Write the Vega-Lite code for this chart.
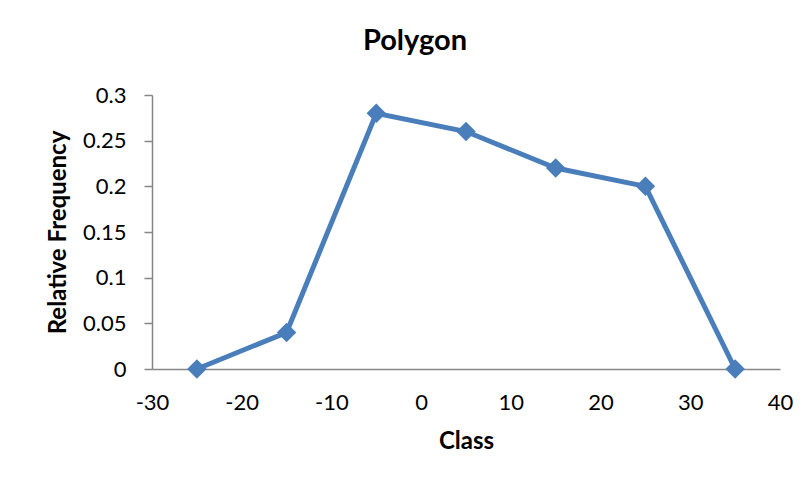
{
  "$schema": "https://vega.github.io/schema/vega-lite/v6.json",
  "width": 628,
  "height": 274,
  "autosize": {"type": "none"},
  "padding": {"left": 152, "top": 95, "right": 32, "bottom": 121},
  "background": "white",
  "config": {
    "view": {"stroke": null},
    "font": "Lato"
  },
  "title": {
    "text": "Polygon",
    "font": "Lato",
    "fontSize": 29,
    "fontWeight": "bold",
    "color": "#000000",
    "anchor": "middle",
    "frame": "group",
    "dx": -51,
    "baseline": "alphabetic",
    "offset": 5
  },
  "data": {
    "values": [
      {"Class": -25, "RelativeFrequency": 0},
      {"Class": -15, "RelativeFrequency": 0.04},
      {"Class": -5, "RelativeFrequency": 0.28},
      {"Class": 5, "RelativeFrequency": 0.26},
      {"Class": 15, "RelativeFrequency": 0.22},
      {"Class": 25, "RelativeFrequency": 0.2},
      {"Class": 35, "RelativeFrequency": 0}
    ]
  },
  "mark": {
    "type": "line",
    "color": "#4A7EBB",
    "strokeWidth": 5,
    "point": {"shape": "diamond", "size": 380, "filled": true, "color": "#4A7EBB", "opacity": 1}
  },
  "encoding": {
    "x": {
      "field": "Class",
      "type": "quantitative",
      "scale": {"domain": [-30, 40], "nice": false, "zero": false},
      "axis": {
        "title": "Class",
        "values": [-30, -20, -10, 0, 10, 20, 30, 40],
        "labelExpr": "'' + datum.value",
        "grid": false,
        "ticks": false,
        "domainColor": "#868686",
        "domainWidth": 1.5,
        "labelFont": "Lato",
        "labelFontSize": 22,
        "labelColor": "#000000",
        "labelPadding": 23,
        "labelFlush": false,
        "titleFont": "Lato",
        "titleFontSize": 24,
        "titleFontWeight": "bold",
        "titleColor": "#000000",
        "titlePadding": 16
      }
    },
    "y": {
      "field": "RelativeFrequency",
      "type": "quantitative",
      "scale": {"domain": [0, 0.3], "nice": false},
      "axis": {
        "title": "Relative Frequency",
        "values": [0, 0.05, 0.1, 0.15, 0.2, 0.25, 0.3],
        "labelExpr": "'' + datum.value",
        "grid": false,
        "ticks": true,
        "tickSize": 8,
        "tickColor": "#868686",
        "tickWidth": 1.5,
        "domainColor": "#868686",
        "domainWidth": 1.5,
        "labelFont": "Lato",
        "labelFontSize": 22,
        "labelColor": "#000000",
        "labelPadding": 18,
        "labelFlush": false,
        "titleFont": "Lato",
        "titleFontSize": 24,
        "titleFontWeight": "bold",
        "titleColor": "#000000",
        "titlePadding": 12
      }
    }
  }
}
